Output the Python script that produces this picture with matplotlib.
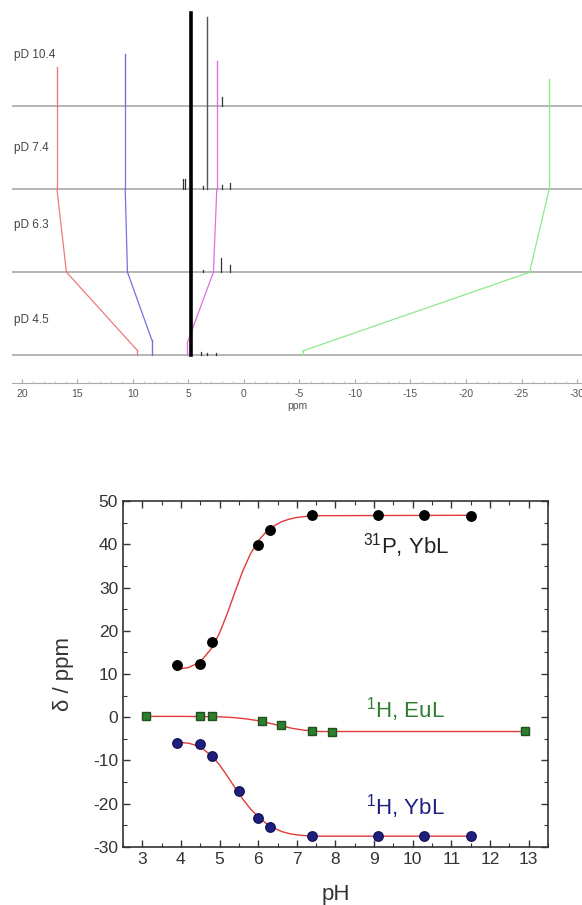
import matplotlib
matplotlib.use("Agg")
import matplotlib.pyplot as plt
from matplotlib.ticker import MultipleLocator

plt.rcParams['font.family'] = ['Liberation Sans', 'DejaVu Sans']
plt.rcParams['axes.unicode_minus'] = False

## dados do espectro (painel de cima) ##
pd_labels = ['pD 10.4', 'pD 7.4', 'pD 6.3', 'pD 4.5']
label_y = [3.61, 2.5, 1.57, 0.42]
base = [3, 2, 1, 0]

red_ppm = [16.85, 16.85, 16.0, 9.64]
red_h = [0.47, 0.0, 0.0, 0.06]
blue_ppm = [10.7, 10.7, 10.5, 8.3]
blue_h = [0.63, 0.0, 0.0, 0.18]
mag_ppm = [2.45, 2.45, 2.75, 5.1]
mag_h = [0.54, 0.0, 0.0, 0.15]
green_ppm = [-27.5, -27.5, -25.8, -5.3]
green_h = [0.33, 0.1, 0.04, 0.05]

hdo_ppm = 4.77
hdo_top = 4.12
thin_ppm = 3.33
thin_top = 4.07

# picos pequenos pretos: (espectro, ppm, altura)
small_spec = [0, 1, 1, 1, 1, 1, 2, 2, 2, 3, 3, 3]
small_ppm = [2.0, 5.5, 5.3, 3.7, 2.0, 1.26, 3.7, 2.07, 1.26, 3.9, 3.3, 2.5]
small_h = [0.11, 0.12, 0.12, 0.04, 0.05, 0.07, 0.03, 0.17, 0.09, 0.04, 0.03, 0.03]

## dados do grafico pH (painel de baixo) ##
p_ph = [3.9, 4.5, 4.8, 6.0, 6.3, 7.4, 9.1, 10.3, 11.5]
p_d = [12.0, 12.3, 17.4, 39.8, 43.3, 46.7, 46.7, 46.7, 46.6]
p_fit_ph = [3.9, 4.2, 4.5, 4.8, 5.0, 5.2, 5.4, 5.6, 5.8, 6.0, 6.2, 6.4, 6.6, 6.8, 7.0, 7.4, 11.5]
p_fit_d = [11.1, 11.5, 12.8, 16.0, 19.5, 24.0, 29.0, 33.8, 37.8, 40.8, 42.8, 44.2, 45.2, 45.8, 46.2, 46.6, 46.7]

eu_ph = [3.1, 4.5, 4.8, 6.1, 6.6, 7.4, 7.9, 12.9]
eu_d = [0.3, 0.2, 0.2, -0.9, -1.9, -3.2, -3.5, -3.2]
eu_fit_ph = [3.1, 4.0, 5.0, 5.4, 5.7, 6.0, 6.3, 6.6, 6.9, 7.2, 7.6, 12.9]
eu_fit_d = [0.2, 0.2, 0.1, -0.1, -0.4, -0.8, -1.4, -2.0, -2.6, -3.0, -3.3, -3.3]

h_ph = [3.9, 4.5, 4.8, 5.5, 6.0, 6.3, 7.4, 9.1, 10.3, 11.5]
h_d = [-6.0, -6.3, -9.0, -17.1, -23.3, -25.4, -27.5, -27.5, -27.5, -27.5]
h_fit_ph = [3.9, 4.2, 4.5, 4.8, 5.0, 5.2, 5.4, 5.6, 5.8, 6.0, 6.2, 6.4, 6.6, 6.8, 7.0, 7.4, 11.5]
h_fit_d = [-5.8, -6.0, -6.8, -9.0, -11.0, -13.6, -16.3, -18.9, -21.2, -23.0, -24.5, -25.6, -26.4, -26.9, -27.2, -27.5, -27.5]

fig = plt.figure(figsize=(5.82, 9.05), dpi=100)

## painel de cima ##
ax1 = fig.add_axes([0.0206, 0.5768, 0.9794, 0.4232])
ax1.set_xlim(20.9, -30.45)
ax1.set_ylim(-0.337, 4.277)

for b in base:
    ax1.plot([20.9, -30.45], [b, b], color='#b0b0b0', lw=1.3, zorder=1)

for ppm, h, col in [(red_ppm, red_h, '#f07878'), (blue_ppm, blue_h, '#7272e0'),
                    (mag_ppm, mag_h, '#e070e0'), (green_ppm, green_h, '#8ee88e')]:
    for i in range(4):
        if h[i] > 0:
            ax1.plot([ppm[i], ppm[i]], [base[i], base[i] + h[i]], color=col, lw=1.0, zorder=2)
        if i > 0:
            ax1.plot([ppm[i - 1], ppm[i]], [base[i - 1], base[i] + h[i]], color=col, lw=0.9, zorder=2)

ax1.plot([hdo_ppm, hdo_ppm], [0, hdo_top], color='black', lw=2.6, zorder=3)
ax1.plot([thin_ppm, thin_ppm], [2, thin_top], color='#555555', lw=1.0, zorder=3)
for s, ppm, h in zip(small_spec, small_ppm, small_h):
    ax1.plot([ppm, ppm], [base[s], base[s] + h], color='#333333', lw=0.9, zorder=3)

for lab, y in zip(pd_labels, label_y):
    ax1.text(20.75, y, lab, fontsize=8.5, color='#444444', ha='left', va='center')

for s in ['top', 'left', 'right']:
    ax1.spines[s].set_visible(False)
ax1.spines['bottom'].set_color('#aaaaaa')
ax1.set_yticks([])
ax1.set_xticks(range(20, -31, -5))
ax1.xaxis.set_minor_locator(MultipleLocator(1))
ax1.tick_params(axis='x', which='major', direction='in', length=3, color='#aaaaaa',
                labelsize=7.5, labelcolor='#555555', pad=4)
ax1.tick_params(axis='x', which='minor', direction='in', length=1.5, color='#bbbbbb')
ax1.set_xlabel('ppm', fontsize=7.5, color='#555555', labelpad=2)

## painel de baixo ##
ax2 = fig.add_axes([0.2113, 0.0641, 0.7303, 0.3823])
ax2.plot(p_fit_ph, p_fit_d, color='#e03a3a', lw=1.0, zorder=2)
ax2.plot(eu_fit_ph, eu_fit_d, color='#e03a3a', lw=1.0, zorder=2)
ax2.plot(h_fit_ph, h_fit_d, color='#e03a3a', lw=1.0, zorder=2)

ax2.plot(p_ph, p_d, 'o', color='black', ms=6.8, zorder=3)
ax2.plot(eu_ph, eu_d, 's', color='#2f7d2f', mec='#1e4f1e', ms=6, zorder=3)
ax2.plot(h_ph, h_d, 'o', color='#1f1f80', mec='#14145a', ms=6.8, zorder=3)

ax2.text(9.84, 39.8, r'$^{\mathregular{31}}$P, YbL', fontsize=16, color='#222222', ha='center', va='center')
ax2.text(9.81, 1.7, r'$^{\mathregular{1}}$H, EuL', fontsize=16, color='#2f7d2f', ha='center', va='center')
ax2.text(9.80, -20.7, r'$^{\mathregular{1}}$H, YbL', fontsize=16, color='#1f1f80', ha='center', va='center')

ax2.set_xlim(2.5, 13.5)
ax2.set_ylim(-30, 50)
ax2.set_xticks(range(3, 14))
ax2.set_yticks(range(-30, 51, 10))
ax2.xaxis.set_minor_locator(MultipleLocator(0.5))
ax2.yaxis.set_minor_locator(MultipleLocator(5))
ax2.tick_params(which='both', direction='in', top=True, right=True, color='#333333')
ax2.tick_params(which='major', length=5, width=1.0, labelsize=12.5, labelcolor='#333333')
ax2.tick_params(which='minor', length=3, width=0.8)
for s in ax2.spines.values():
    s.set_linewidth(1.2)
    s.set_color('#333333')
ax2.set_xlabel('pH', fontsize=16, color='#333333', labelpad=12)
ax2.set_ylabel('δ / ppm', fontsize=16, color='#333333', labelpad=14)

plt.savefig('out.png', dpi=100)
